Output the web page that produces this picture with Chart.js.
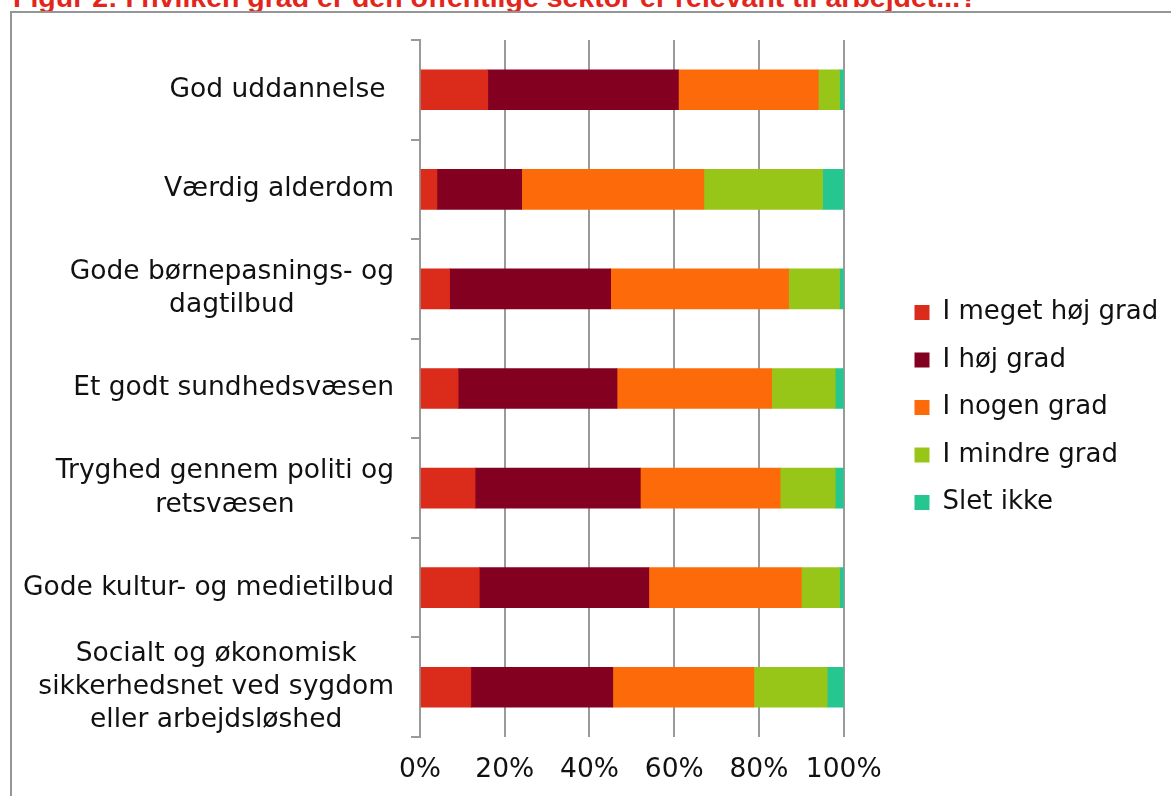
<!DOCTYPE html>
<html><head><meta charset="utf-8">
<script src="https://cdn.jsdelivr.net/npm/chart.js@4.4.1/dist/chart.umd.min.js"></script>
<style>
html,body{margin:0;padding:0;background:#fff;overflow:hidden;width:1171px;height:796px;}
#title{position:absolute;left:13px;top:-18px;font:bold 28.5px "Liberation Sans",Arial,sans-serif;line-height:30px;color:#E3261C;white-space:nowrap;}
#frame{position:absolute;left:10px;top:11px;width:1300px;height:900px;border:2px solid #959595;}
#wrap{position:absolute;left:14px;top:14px;width:1149px;height:782px;}
</style></head><body>
<div id="title">Figur 2: I hvilken grad er den offentlige sektor er relevant til arbejdet...?</div>
<div id="frame"></div>
<div id="wrap"><canvas id="c"></canvas></div>
<script>
const categories = [
  'God uddannelse ',
  'Værdig alderdom',
  ['Gode børnepasnings- og', 'dagtilbud'],
  'Et godt sundhedsvæsen',
  ['Tryghed gennem politi og', 'retsvæsen'],
  'Gode kultur- og medietilbud',
  ['Socialt og økonomisk', 'sikkerhedsnet ved sygdom', 'eller arbejdsløshed']
];
const seriesNames = ['I meget høj grad', 'I høj grad', 'I nogen grad', 'I mindre grad', 'Slet ikke'];
const megetHoej = [16, 4, 7, 9, 13, 14, 12];
const hoej      = [45, 20, 38, 37.5, 39, 40, 33.5];
const nogen     = [33, 43, 42, 36.5, 33, 36, 33.3];
const mindre    = [5, 28, 12, 15, 13, 9, 17.3];
const sletIkke  = [1, 5, 1, 2, 2, 1, 3.9];
const xTickLabels = ['0%', '20%', '40%', '60%', '80%', '100%'];
const colors = ['#DA2B1B', '#830020', '#FD6A0A', '#98C618', '#25C68F'];
const seriesValues = [megetHoej, hoej, nogen, mindre, sletIkke];

Chart.defaults.font.family = '"DejaVu Sans", sans-serif';
Chart.defaults.color = '#111';

const centerLines = {
  id: 'centerLines',
  beforeDraw(chart) {
    const s = chart.scales.y;
    const items = s.getLabelItems();
    const ctx = chart.ctx;
    items.forEach(it => {
      if (Array.isArray(it.label) && !it._centered) {
        ctx.save();
        ctx.font = it.font.string;
        const w = Math.max(...it.label.map(l => ctx.measureText(l).width));
        ctx.restore();
        const [x, y] = it.options.translation;
        it.options.translation = [x - w / 2, y];
        it.options.textAlign = 'center';
        it._centered = true;
      }
    });
  }
};

new Chart(document.getElementById('c'), {
  type: 'bar',
  data: {
    labels: categories,
    datasets: seriesNames.map((n, i) => ({
      label: n,
      data: seriesValues[i],
      backgroundColor: colors[i],
      borderWidth: 0,
      barThickness: 40
    }))
  },
  options: {
    indexAxis: 'y',
    responsive: true,
    maintainAspectRatio: false,
    animation: false,
    layout: { padding: { top: 26, bottom: 9, left: 0, right: 0 } },
    scales: {
      x: {
        stacked: true,
        min: 0, max: 100,
        afterFit: s => { s.height = 50; },
        grid: { color: '#9a9a9a', lineWidth: 2, drawTicks: false },
        border: { display: false },
        ticks: {
          stepSize: 20,
          padding: 28,
          color: '#111',
          font: { size: 26.5, lineHeight: 10 / 26.5 },
          callback: (v, i) => xTickLabels[i]
        }
      },
      y: {
        stacked: true,
        afterFit: s => { s.width = 406; s.paddingTop = 0; s.paddingBottom = 0; },
        grid: { display: true, drawOnChartArea: false, drawTicks: true, tickLength: 9, color: '#9a9a9a', lineWidth: 2, offset: true },
        border: { display: true, color: '#9a9a9a', width: 2 },
        ticks: { autoSkip: false, padding: 17, color: '#111', font: { size: 26.5, lineHeight: 1.25 } }
      },
      y2: {
        type: 'category',
        position: 'right',
        afterFit: s => { s.width = 49.3; s.paddingTop = 0; s.paddingBottom = 0; },
        grid: { display: false },
        border: { display: false },
        ticks: { display: false }
      }
    },
    plugins: {
      legend: {
        position: 'right',
        align: 'center',
        fullSize: false,
        maxWidth: 270,
        title: { display: true, text: '', font: { size: 10, lineHeight: 1.2 }, padding: { top: 13, bottom: 13 } },
        labels: { boxWidth: 15, boxHeight: 15, padding: 21.5, color: '#111', font: { size: 26 } }
      },
      tooltip: { enabled: false }
    }
  },
  plugins: [centerLines]
});
</script>
</body></html>
